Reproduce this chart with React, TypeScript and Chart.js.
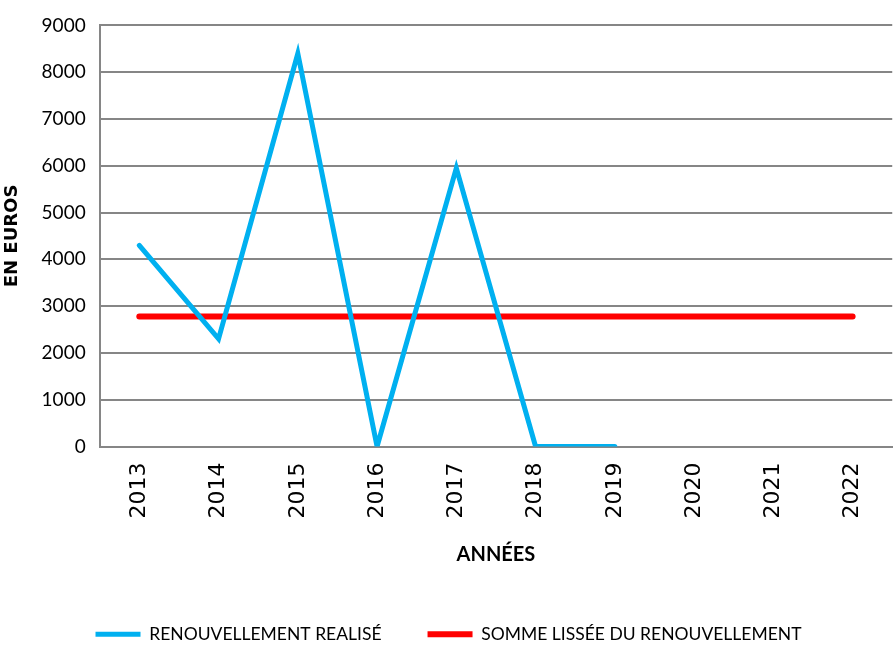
import React, { useEffect, useRef } from "react";
import { Chart, registerables } from "chart.js";

Chart.register(...registerables);

const years = ["2013", "2014", "2015", "2016", "2017", "2018", "2019", "2020", "2021", "2022"];
const realise = [4300, 2300, 8400, 0, 5950, 0, 0, null, null, null];
const lissee = [2780, 2780, 2780, 2780, 2780, 2780, 2780, 2780, 2780, 2780];
const seriesNames = ["RENOUVELLEMENT REALISÉ", "SOMME LISSÉE DU RENOUVELLEMENT"];
const yTitle = "EN EUROS";
const xTitle = "ANNÉES";

const NARROW = "Lato, 'Liberation Sans', Arial, sans-serif";

export default function App() {
  const ref = useRef<HTMLCanvasElement | null>(null);

  useEffect(() => {
    document.body.style.margin = "0";
    const canvas = ref.current;
    if (!canvas) return;
    const chart = new Chart(canvas, {
      type: "line",
      data: {
        labels: years,
        datasets: [
          {
            label: seriesNames[0],
            data: realise,
            borderColor: "#00B0F0",
            backgroundColor: "#00B0F0",
            borderWidth: 5,
            pointRadius: 0,
            borderCapStyle: "round",
            borderJoinStyle: "miter",
            tension: 0,
            spanGaps: false,
          },
          {
            label: seriesNames[1],
            data: lissee,
            borderColor: "#FF0000",
            backgroundColor: "#FF0000",
            borderWidth: 6,
            pointRadius: 0,
            borderCapStyle: "round",
            tension: 0,
          },
        ],
      },
      options: {
        responsive: false,
        animation: false,
        layout: { padding: { top: 2, right: 0, left: 2, bottom: -8 } },
        plugins: {
          tooltip: { enabled: false },
          legend: {
            position: "bottom",
            labels: {
              usePointStyle: true,
              pointStyle: "line",
              pointStyleWidth: 45,
              boxWidth: 45,
              padding: 46,
              color: "#000",
              font: { family: NARROW, size: 17.5 },
            },
          },
        },
        scales: {
          x: {
            offset: true,
            grid: { display: false, drawTicks: false },
            border: { display: true, color: "#868686", width: 2 },
            ticks: {
              color: "#000",
              maxRotation: 90,
              minRotation: 90,
              padding: 16,
              font: { family: "'DejaVu Sans', sans-serif", size: 22 },
            },
            title: {
              display: true,
              text: xTitle,
              color: "#000",
              font: { family: NARROW, size: 20, weight: "bold" },
              padding: { top: 8, bottom: 13 },
            },
          },
          y: {
            min: 0,
            max: 9000,
            grid: { color: "#868686", lineWidth: 2, drawTicks: false },
            border: { display: true, color: "#868686", width: 2 },
            ticks: {
              stepSize: 1000,
              color: "#000",
              padding: 14,
              font: { family: NARROW, size: 19 },
              callback: (v: any) => String(v),
            },
            title: {
              display: true,
              text: yTitle,
              color: "#000",
              font: { family: "'DejaVu Sans', sans-serif", size: 18, weight: "bold" },
              padding: { top: 0, bottom: 4 },
            },
          },
        },
      },
    });
    return () => chart.destroy();
  }, []);

  return (
    <div style={{ width: 895, height: 645 }}>
      <canvas ref={ref} width={895} height={645} style={{ display: "block" }} />
    </div>
  );
}
